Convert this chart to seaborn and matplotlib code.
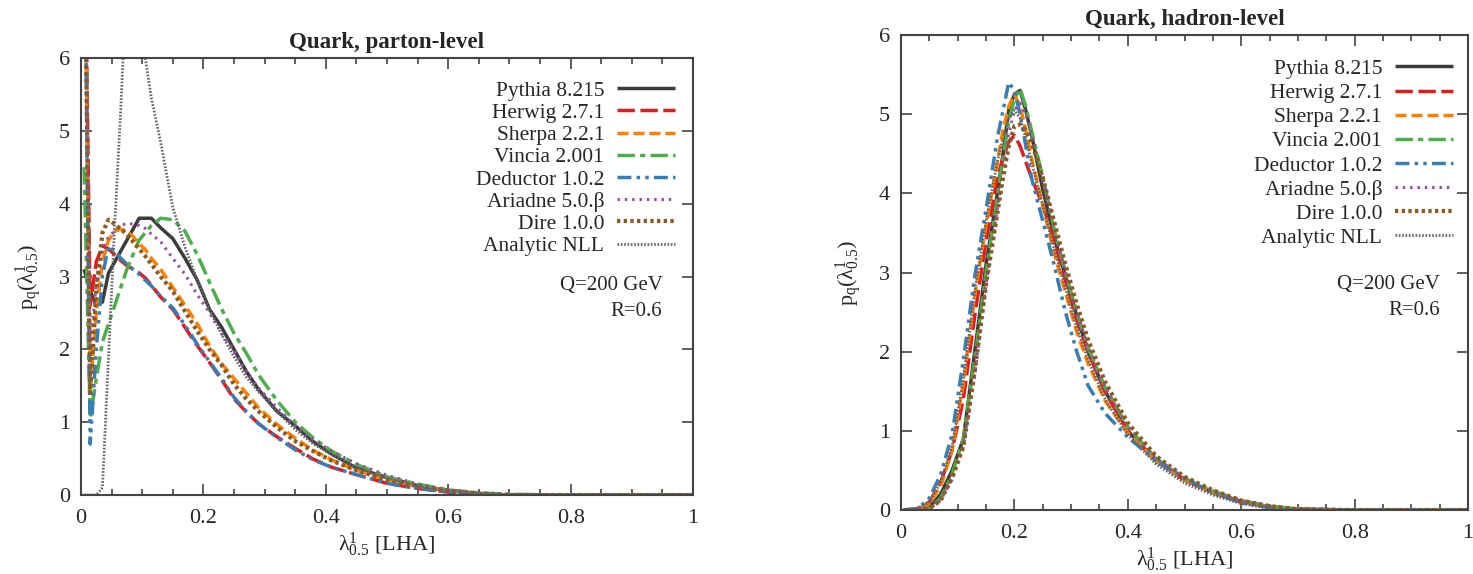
import numpy as np
import pandas as pd
import matplotlib
matplotlib.use("Agg")
import matplotlib.pyplot as plt
import seaborn as sns
from matplotlib.ticker import MultipleLocator, FuncFormatter

# ---------------- data ----------------
names = ["Pythia 8.215", "Herwig 2.7.1", "Sherpa 2.2.1", "Vincia 2.001",
         "Deductor 1.0.2", "Ariadne 5.0.β", "Dire 1.0.0", "Analytic NLL"]

# parton level
x_parton = [0.005, 0.015, 0.025, 0.035, 0.045, 0.055, 0.065, 0.075, 0.085, 0.095,
            0.105, 0.115, 0.13, 0.15, 0.17, 0.19, 0.21, 0.23, 0.25, 0.27,
            0.29, 0.32, 0.35, 0.38, 0.41, 0.45, 0.5, 0.55, 0.6, 0.65,
            0.7, 0.8, 0.9, 1.0]
pythia_p = [3.1, 2.8, 2.6, 2.65, 3.05, 3.2, 3.35, 3.5, 3.65, 3.8,
            3.8, 3.8, 3.67, 3.52, 3.25, 2.95, 2.55, 2.3, 2.0, 1.7,
            1.45, 1.15, 0.95, 0.73, 0.56, 0.37, 0.24, 0.13, 0.06, 0.02,
            0.0, 0.0, 0.0, 0.0]
herwig_p = [8.5, 2.6, 3.2, 3.42, 3.38, 3.3, 3.22, 3.15, 3.1, 3.05,
            2.98, 2.88, 2.72, 2.55, 2.3, 2.05, 1.82, 1.58, 1.32, 1.14,
            0.98, 0.8, 0.64, 0.49, 0.38, 0.28, 0.16, 0.09, 0.04, 0.01,
            0.0, 0.0, 0.0, 0.0]
sherpa_p = [8.5, 1.4, 2.5, 3.2, 3.5, 3.62, 3.65, 3.62, 3.55, 3.45,
            3.37, 3.25, 3.1, 2.85, 2.6, 2.35, 2.05, 1.8, 1.6, 1.4,
            1.2, 0.97, 0.78, 0.61, 0.48, 0.34, 0.21, 0.12, 0.06, 0.02,
            0.0, 0.0, 0.0, 0.0]
vincia_p = [4.5, 1.05, 1.6, 2.1, 2.35, 2.6, 2.85, 3.1, 3.3, 3.5,
            3.6, 3.7, 3.8, 3.78, 3.62, 3.3, 2.92, 2.55, 2.22, 1.95,
            1.65, 1.3, 1.0, 0.78, 0.6, 0.42, 0.25, 0.15, 0.07, 0.03,
            0.01, 0.0, 0.0, 0.0]
deductor_p = [8.5, 0.7, 2.0, 3.0, 3.42, 3.35, 3.25, 3.17, 3.1, 3.03,
              2.95, 2.87, 2.73, 2.57, 2.33, 2.07, 1.83, 1.6, 1.34, 1.15,
              0.98, 0.79, 0.62, 0.48, 0.38, 0.28, 0.16, 0.09, 0.04, 0.01,
              0.0, 0.0, 0.0, 0.0]
ariadne_p = [8.5, 2.0, 2.9, 3.35, 3.55, 3.62, 3.7, 3.73, 3.72, 3.7,
             3.66, 3.58, 3.48, 3.25, 3.03, 2.75, 2.5, 2.22, 1.98, 1.7,
             1.47, 1.2, 0.95, 0.76, 0.6, 0.43, 0.27, 0.15, 0.07, 0.03,
             0.01, 0.0, 0.0, 0.0]
dire_p = [8.5, 1.4, 2.8, 3.6, 3.78, 3.72, 3.65, 3.58, 3.48, 3.38,
          3.28, 3.17, 3.0, 2.8, 2.52, 2.25, 2.0, 1.78, 1.52, 1.32,
          1.15, 0.93, 0.74, 0.6, 0.47, 0.34, 0.21, 0.12, 0.06, 0.02,
          0.0, 0.0, 0.0, 0.0]
analytic_p = [0.0, 0.0, 0.0, 0.1, 1.9, 3.7, 5.3, 7.2, 7.0, 6.5,
              6.0, 5.45, 4.85, 3.95, 3.4, 2.95, 2.55, 2.2, 1.9, 1.62,
              1.42, 1.15, 0.9, 0.7, 0.55, 0.38, 0.23, 0.12, 0.05, 0.02,
              0.0, 0.0, 0.0, 0.0]

# hadron level
x_hadron = [0.005, 0.03, 0.05, 0.07, 0.09, 0.11, 0.13, 0.15, 0.17, 0.18,
            0.19, 0.2, 0.21, 0.22, 0.23, 0.25, 0.27, 0.29, 0.31, 0.33,
            0.36, 0.4, 0.45, 0.5, 0.55, 0.6, 0.65, 0.7, 0.8, 0.9, 1.0]
pythia_h = [0.0, 0.0, 0.03, 0.2, 0.5, 0.9, 2.0, 3.1, 4.0, 4.5,
            5.05, 5.25, 5.3, 5.05, 4.75, 4.05, 3.45, 2.95, 2.45, 2.0,
            1.5, 1.0, 0.62, 0.38, 0.22, 0.11, 0.04, 0.01, 0.0, 0.0, 0.0]
herwig_h = [0.0, 0.02, 0.1, 0.35, 0.75, 1.4, 2.45, 3.4, 4.2, 4.45,
            4.65, 4.73, 4.6, 4.4, 4.2, 3.85, 3.4, 2.9, 2.4, 2.0,
            1.5, 1.0, 0.62, 0.38, 0.22, 0.1, 0.04, 0.01, 0.0, 0.0, 0.0]
sherpa_h = [0.0, 0.01, 0.08, 0.3, 0.75, 1.6, 2.7, 3.6, 4.4, 4.8,
            5.1, 5.25, 5.1, 4.8, 4.45, 3.85, 3.25, 2.75, 2.25, 1.85,
            1.38, 0.97, 0.62, 0.38, 0.22, 0.1, 0.04, 0.01, 0.0, 0.0, 0.0]
vincia_h = [0.0, 0.0, 0.02, 0.15, 0.45, 0.9, 1.9, 3.0, 3.95, 4.45,
            4.9, 5.2, 5.32, 5.1, 4.8, 4.2, 3.55, 3.0, 2.5, 2.05,
            1.55, 1.05, 0.65, 0.4, 0.24, 0.12, 0.05, 0.01, 0.0, 0.0, 0.0]
deductor_h = [0.0, 0.02, 0.15, 0.45, 0.95, 1.9, 2.95, 3.8, 4.7, 5.05,
              5.4, 5.3, 5.0, 4.6, 4.2, 3.65, 3.1, 2.5, 2.0, 1.57,
              1.22, 0.92, 0.62, 0.4, 0.22, 0.09, 0.03, 0.0, 0.0, 0.0, 0.0]
ariadne_h = [0.0, 0.0, 0.02, 0.12, 0.4, 0.8, 1.7, 2.85, 3.8, 4.3,
             4.75, 5.05, 5.14, 5.0, 4.75, 4.2, 3.55, 3.0, 2.5, 2.05,
             1.55, 1.05, 0.65, 0.4, 0.23, 0.11, 0.04, 0.01, 0.0, 0.0, 0.0]
dire_h = [0.0, 0.0, 0.02, 0.12, 0.4, 0.8, 1.75, 2.85, 3.75, 4.2,
          4.6, 4.85, 4.87, 4.8, 4.65, 4.2, 3.65, 3.1, 2.6, 2.15,
          1.62, 1.1, 0.68, 0.42, 0.25, 0.12, 0.05, 0.01, 0.0, 0.0, 0.0]
analytic_h = [0.0, 0.01, 0.1, 0.35, 0.8, 1.65, 2.75, 3.65, 4.4, 4.7,
              4.95, 5.05, 4.95, 4.7, 4.4, 3.85, 3.3, 2.8, 2.3, 1.9,
              1.4, 0.95, 0.58, 0.34, 0.19, 0.08, 0.02, 0.0, 0.0, 0.0, 0.0]

parton_series = [pythia_p, herwig_p, sherpa_p, vincia_p, deductor_p, ariadne_p, dire_p, analytic_p]
hadron_series = [pythia_h, herwig_h, sherpa_h, vincia_h, deductor_h, ariadne_h, dire_h, analytic_h]

# ---------------- styles ----------------
colors = ["#3c3c3c", "#e41a1c", "#ff7f00", "#4daf4a", "#377eb8", "#984ea3", "#8c5a1e", "#666666"]
styles = [(0, ()), (0, (5, 1.6)), (0, (3.2, 1.4)), (0, (5, 1.5, 1.5, 1.5)),
          (0, (4, 1.5, 1, 1.5, 1, 1.5)), (0, (0.8, 1.6)), (0, (0.8, 0.8)), (0, (0.6, 0.6))]
widths = [2.5, 2.5, 2.5, 2.5, 2.5, 2.2, 3.0, 2.0]

sns.set_style("ticks")
serif = ["Liberation Serif", "DejaVu Serif"]
plt.rcParams["font.family"] = serif
plt.rcParams["mathtext.fontset"] = "custom"
plt.rcParams["mathtext.rm"] = "Liberation Serif"
plt.rcParams["mathtext.it"] = "Liberation Serif:italic"
plt.rcParams["mathtext.bf"] = "Liberation Serif:bold"

fig = plt.figure(figsize=(14.73, 5.74), dpi=100)
ax1 = fig.add_axes([81 / 1473, 1 - 495 / 574, (693 - 81) / 1473, (495 - 58) / 574])
ax2 = fig.add_axes([901 / 1473, 1 - 510 / 574, (1468 - 901) / 1473, (510 - 35) / 574])

panels = [(ax1, x_parton, parton_series, "Quark, parton-level", 0.985, 0.968, 0.10, 0.48, 0.421),
          (ax2, x_hadron, hadron_series, "Quark, hadron-level", 0.989, 0.968, 0.19, 0.474, 0.419)]

for ax, xs, series, title, lx, ly, lsp, qy, ry in panels:
    for name, ys, c, ls, lw in zip(names, series, colors, styles, widths):
        sns.lineplot(x=xs, y=ys, ax=ax, color=c, linestyle=ls, lw=lw, label=name,
                     sort=False, estimator=None)
    ax.set_xlim(0, 1)
    ax.set_ylim(0, 6)
    ax.xaxis.set_major_locator(MultipleLocator(0.2))
    ax.xaxis.set_minor_locator(MultipleLocator(0.05))
    ax.yaxis.set_major_locator(MultipleLocator(1))
    ax.tick_params(which="both", direction="in", top=True, right=True, color="#444444",
                   labelsize=16, width=1.2)
    ax.tick_params(which="major", length=8)
    ax.tick_params(axis="x", which="major", pad=10)
    ax.tick_params(axis="y", which="major", pad=8)
    ax.tick_params(which="minor", length=4)
    for sp in ax.spines.values():
        sp.set_visible(True)
        sp.set_color("#444444")
        sp.set_linewidth(1.5)
    ax.xaxis.set_major_formatter(FuncFormatter(
        lambda v, p: "0" if abs(v) < 1e-9 else ("1" if abs(v - 1) < 1e-9 else f"{v:.1f}")))
    ax.set_title(title, fontsize=16.5, fontweight="bold", pad=7)
    ax.set_xlabel(r"$\mathrm{\lambda^1_{0.5}}$ [LHA]", fontsize=16, labelpad=2)
    ax.set_ylabel(r"$\mathrm{p_q(\lambda^1_{0.5})}$", fontsize=16, labelpad=10)
    ax.legend(loc="upper right", bbox_to_anchor=(lx, ly), frameon=False,
              markerfirst=False, fontsize=15.5, handlelength=2.7, handletextpad=0.6,
              labelspacing=lsp, borderaxespad=0)
    ax.text(0.95, qy, "Q=200 GeV", transform=ax.transAxes,
            ha="right", va="center", fontsize=15)
    ax.text(0.95, ry, "R=0.6", transform=ax.transAxes,
            ha="right", va="center", fontsize=15)

fig.savefig("out.png", dpi=100)
